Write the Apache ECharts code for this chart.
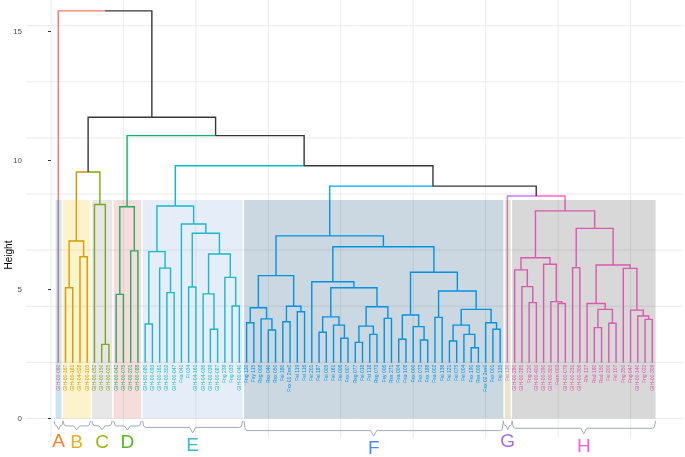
<!DOCTYPE html>
<html><head><meta charset="utf-8">
<script src="https://cdn.jsdelivr.net/npm/echarts@6/dist/echarts.min.js"></script>
<style>html,body{margin:0;padding:0;background:#fff}#c{width:685px;height:457px}</style>
</head><body><div id="c"></div>
<script>
// ---------- DATA ----------
const labelsA = ['GIH-00-060'];
const labelsB = ['GIH-00-167','GIH-00-181','GIH-04-528','GIH-00-105'];
const labelsC = ['GIH-00-052','GIH-00-150','GIH-00-025'];
const labelsD = ['GIH-00-042','GIH-00-075','GIH-00-201','GIH-00-088'];
const labelsE = ['GIH-00-080','GIH-00-093','GIH-00-161','GIH-00-302','GIH-00-047','Fsa 041','Fl 034','GIH-04-161','GIH-04-036','GIH-00-039','GIH-00-087','Fng 238','Fng 033','GIH-00-040'];
const labelsF = ['Fng 120','Fsy 115','Rsg 008','Rsx 040','Rsx 050','Fsi 180','Fsx 01 2ss0','Fsi 119','Fsi 116','Fsi 201','Fsi 187','Fsi 005','Fsi 161','Fsi 006','Fsx 007','Rsg 077','Fsi 018','Fsi 118','Rsg 073','Fsy 006','Rss 271','Fsa 004','Fsa 108','Fsx 000','Fsx 073','Fsx 188','Fsa 002','Fsi 136','Fsi 121','Fsi 075','Fsi 004','Fsx 190','Rss 006','Fsx 02 2ss0','Fsx 001','Fsi 135'];
const labelsG = ['Fsi 130'];
const labelsH = ['GIH-00-280','GIH-00-285','Fng 220','GIH-00-400','GIH-00-290','GIH-00-305','Fern 003','GIH-00-078','GIH-00-231','GIH-00-306','Rfe 127','Rsd 180','Rsd 150','Fsi 200','Fsi 107','Fng 350','Fng 047','GIH-00-140','Fng 022','GIH-00-309'];

const clusterNames = ['A','B','C','D','E','F','G','H'];
const clusterLabels = [labelsA,labelsB,labelsC,labelsD,labelsE,labelsF,labelsG,labelsH];

// hclust-style merges: negative = leaf (1-based display order), positive = merge row (1-based)
const mergeLeft = [
  -2,-4,1, -7,-6, -9,-11,6,
  -13,-16,-15,9,-19,-22,-21,-25,-24,15,13,-18,12,
  -27,-30,-29,22,-32,-34,26,25,-37,-40,-39,30,-42,-44,34,-46,36,33,-36,-48,-51,-50,41,-53,-55,-58,-57,46,-61,-60,49,45,44,40,29,
  -66,-65,-64,-70,-69,-68,59,-72,-75,-77,65,-74,-82,-81,-80,-79,68,64,63,-63,
  3,56,21,8,77,-1
];
const mergeRight = [
  -3,-5,2, -8,4, -10,-12,7,
  -14,-17,10,11,-20,-23,14,-26,16,17,18,19,20,
  -28,-31,23,24,-33,-35,27,28,-38,-41,31,32,-43,-45,35,-47,37,38,39,-49,-52,42,43,-54,-56,-59,47,48,-62,50,51,52,53,54,55,
  -67,57,58,-71,60,61,62,-73,-76,-78,66,67,-83,69,70,71,72,73,74,75,
  5,76,78,79,80,81
];
const mergeHeight = [
  5.07,6.27,6.88, 2.87,8.30, 4.81,6.50,8.21,
  3.66,4.88,5.83,6.47,5.10,3.46,4.83,4.36,5.47,6.38,7.18,7.54,8.24,
  3.71,3.43,3.86,4.29,3.75,4.14,4.35,5.54,3.34,3.11,3.62,3.94,2.95,3.26,3.58,3.88,4.33,5.07,5.30,3.07,3.04,3.56,4.01,3.92,3.00,2.74,3.26,3.62,3.46,3.71,4.23,4.94,5.67,6.66,7.08,
  4.49,5.11,5.76,4.46,4.53,5.98,6.23,5.85,3.52,3.69,4.23,4.46,3.84,3.97,4.20,5.82,5.95,7.37,8.05,8.63,
  9.56,9.01,9.80,10.97,11.68,15.81
];
const yTickValues = [0,5,10,15];

// ---------- STYLE ----------
const branchColors = ['#F8766D','#CD9600','#7CAE00','#00BE67','#00BFC4','#00A9FF','#C77CFF','#FF61CC'];
const rectColors = ['#0073C2','#EFC000','#868686','#CD534C','#7AA6DC','#003C67','#8F7700','#3B3B3B'];
const letterColors = ['#F7842E','#E0B01E','#A3B51E','#58B927','#3DBBCB','#4A8EF2','#A66CF2','#F65FDC'];
const topColor = '#383838';
const leafBase = 2.16, rectTop = 8.47, gridStep = 2.176, gridCount = 7, vGridStep = 10;
const xMin = -3.45, xMax = 87.24, yMin = -0.76, yMax = 16.23;
const FONT = '"Liberation Sans", Arial, sans-serif';

// ---------- BUILD ----------
const leafLabels = [].concat(...clusterLabels);
const nLeaves = leafLabels.length;
const leafCluster = [];
clusterLabels.forEach((arr, ci) => arr.forEach(() => leafCluster.push(ci)));
const clusterFirst = [], clusterLast = [];
{ let s = 1; clusterLabels.forEach((arr, ci) => { clusterFirst[ci] = s; clusterLast[ci] = s + arr.length - 1; s += arr.length; }); }

const nodeX = [], nodeH = [], nodeCol = [];
function info(c) {
  if (c < 0) { const i = -c; return {x: i, h: leafBase, col: leafCluster[i-1]}; }
  return {x: nodeX[c-1], h: nodeH[c-1], col: nodeCol[c-1]};
}
const segData = [];
for (let r = 0; r < mergeHeight.length; r++) {
  const L = info(mergeLeft[r]), R = info(mergeRight[r]);
  const h = mergeHeight[r];
  const x = (L.x + R.x) / 2;
  nodeX[r] = x; nodeH[r] = h; nodeCol[r] = (L.col === R.col) ? L.col : -1;
  segData.push([L.x, L.h, L.x, h, x, h, L.col]);
  segData.push([R.x, R.h, R.x, h, x, h, R.col]);
}
const rectData = clusterNames.map((n, ci) => [clusterFirst[ci] - 0.35, 0, clusterLast[ci] + 0.45, rectTop, ci]);
const leafData = leafLabels.map((l, i) => [i + 1, leafBase, leafCluster[i]]);
const gridData = [];
for (let k = 0; k <= gridCount; k++) gridData.push([0, k * gridStep, 0]);
for (let k = 0; k * vGridStep <= nLeaves; k++) gridData.push([k * vGridStep, 0, 1]);

const chart = echarts.init(document.getElementById('c'), null, {renderer: 'canvas'});
chart.setOption({
  animation: false,
  backgroundColor: '#fff',
  grid: {left: 26, right: 2, top: 0, bottom: 19},
  xAxis: {type: 'value', min: xMin, max: xMax, show: false},
  yAxis: {
    type: 'value', min: yMin, max: yMax,
    axisLine: {show: false}, splitLine: {show: false},
    axisTick: {show: true, customValues: yTickValues, length: 3, lineStyle: {color: '#333', width: 1}},
    axisLabel: {customValues: yTickValues, fontSize: 8, color: '#4D4D4D', margin: 4, fontFamily: FONT}
  },
  graphic: [{type: 'text', x: 9, y: 255, rotation: Math.PI / 2,
    style: {text: 'Height', font: '10px ' + FONT, fill: '#000', align: 'center', verticalAlign: 'middle'}}],
  series: [
    { // grid lines
      type: 'custom', z: 0, silent: true, data: gridData, encode: {x: 0, y: 1},
      renderItem: (params, api) => {
        const cs = params.coordSys;
        const p = api.coord([api.value(0), api.value(1)]);
        const shape = api.value(2) === 0
          ? {x1: cs.x, y1: p[1], x2: cs.x + cs.width, y2: p[1]}
          : {x1: p[0], y1: cs.y, x2: p[0], y2: cs.y + cs.height};
        return {type: 'line', shape, style: {stroke: '#EBEBEB', lineWidth: 1}};
      }
    },
    { // branches
      type: 'custom', z: 2, silent: true, data: segData, encode: {x: [0, 2, 4], y: [1, 3, 5]},
      renderItem: (params, api) => {
        const pts = [api.coord([api.value(0), api.value(1)]), api.coord([api.value(2), api.value(3)]), api.coord([api.value(4), api.value(5)])];
        const ci = api.value(6);
        return {type: 'polyline', shape: {points: pts}, style: {stroke: ci < 0 ? topColor : branchColors[ci], lineWidth: 1.4, fill: 'none'}};
      }
    },
    { // leaf labels
      type: 'custom', z: 3, silent: true, data: leafData, encode: {x: 0, y: 1},
      renderItem: (params, api) => {
        const p = api.coord([api.value(0), api.value(1)]);
        const i = params.dataIndex;
        return {type: 'text', x: p[0], y: p[1] + 2, rotation: Math.PI / 2,
          style: {text: leafLabels[i], font: '5px ' + FONT, fill: branchColors[api.value(2)], align: 'right', verticalAlign: 'middle'}};
      }
    },
    { // cluster rectangles
      type: 'custom', z: 4, silent: true, data: rectData, encode: {x: [0, 2], y: [1, 3]},
      renderItem: (params, api) => {
        const a = api.coord([api.value(0), api.value(3)]);
        const b = api.coord([api.value(2), api.value(1)]);
        return {type: 'rect', shape: {x: a[0], y: a[1], width: b[0] - a[0], height: b[1] - a[1]},
          style: {fill: rectColors[api.value(4)], opacity: 0.2}};
      }
    },
    { // brackets and letters
      type: 'custom', z: 5, silent: true, data: rectData, encode: {x: [0, 2], y: [1, 3]},
      renderItem: (params, api) => {
        const a = api.coord([api.value(0), api.value(1)]);
        const b = api.coord([api.value(2), api.value(1)]);
        let L = a[0], R = b[0];
        if (R - L < 9) { const c0 = (L + R) / 2; L = c0 - 4.5; R = c0 + 4.5; }
        const C = (L + R) / 2, w = R - L;
        const top = a[1] + 2.5;
        const depth = 4.5 + 0.02 * w;
        const hy = top + depth, tip = hy + (w > 60 ? 5.5 : 4);
        const r = Math.min(3, w / 5);
        const ci = api.value(4);
        return {type: 'group', children: [
          {type: 'polyline', shape: {points: [[L, top], [L + r * 0.4, hy - 1], [L + r, hy], [C - r, hy], [C, tip], [C + r, hy], [R - r, hy], [R - r * 0.4, hy - 1], [R, top]]},
            style: {stroke: '#A3AAB4', lineWidth: 1, fill: 'none'}},
          {type: 'text', x: C, y: tip + 12.5,
            style: {text: clusterNames[ci], font: '19px ' + FONT, fill: letterColors[ci], align: 'center', verticalAlign: 'middle'}}
        ]};
      }
    }
  ]
});
</script></body></html>
